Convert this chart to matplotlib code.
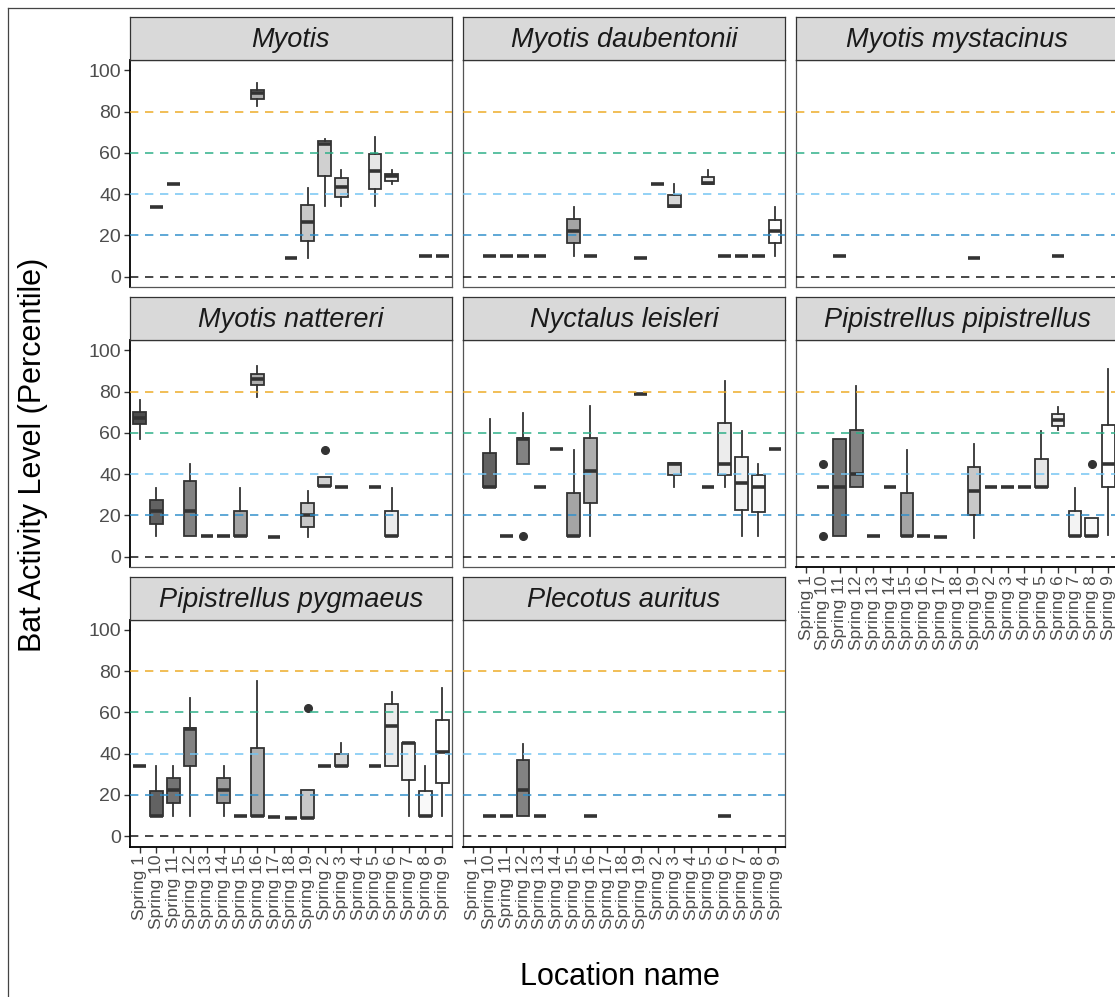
import numpy as np
import matplotlib
matplotlib.use("Agg")
import matplotlib.pyplot as plt
from matplotlib.lines import Line2D

plt.rcParams["font.family"] = ["Liberation Sans", "DejaVu Sans"]

# ---------------------------------------------------------------- data
LOCATIONS = ["Spring 1", "Spring 10", "Spring 11", "Spring 12", "Spring 13",
             "Spring 14", "Spring 15", "Spring 16", "Spring 17", "Spring 18",
             "Spring 19", "Spring 2", "Spring 3", "Spring 4", "Spring 5",
             "Spring 6", "Spring 7", "Spring 8", "Spring 9"]

SPECIES = ["Myotis", "Myotis daubentonii", "Myotis mystacinus",
           "Myotis nattereri", "Nyctalus leisleri", "Pipistrellus pipistrellus",
           "Pipistrellus pygmaeus", "Plecotus auritus"]

# (location, lower whisker, Q1, median, Q3, upper whisker, outliers)
MYOTIS = [
    ("Spring 10", 34, 34, 34, 34, 34, []),
    ("Spring 11", 45, 45, 45, 45, 45, []),
    ("Spring 16", 82.5, 86, 88.8, 90.7, 94, []),
    ("Spring 18", 9, 9, 9, 9, 9, []),
    ("Spring 19", 9, 17.5, 26.3, 34.5, 43, []),
    ("Spring 2", 34.3, 49, 64.1, 65.6, 66.7, []),
    ("Spring 3", 34.3, 38.6, 43.4, 47.6, 51.8, []),
    ("Spring 5", 34.3, 42.6, 51.3, 59.5, 67.8, []),
    ("Spring 6", 45, 46.4, 48.8, 49.9, 51.8, []),
    ("Spring 8", 10, 10, 10, 10, 10, []),
    ("Spring 9", 10, 10, 10, 10, 10, []),
]
MYOTIS_DAUBENTONII = [
    ("Spring 10", 10, 10, 10, 10, 10, []),
    ("Spring 11", 10, 10, 10, 10, 10, []),
    ("Spring 12", 10, 10, 10, 10, 10, []),
    ("Spring 13", 10, 10, 10, 10, 10, []),
    ("Spring 15", 10, 16.1, 22.2, 28, 34, []),
    ("Spring 16", 10, 10, 10, 10, 10, []),
    ("Spring 19", 9, 9, 9, 9, 9, []),
    ("Spring 2", 45, 45, 45, 45, 45, []),
    ("Spring 3", 34, 34, 34.3, 39.5, 44.7, []),
    ("Spring 5", 45, 45, 45.5, 48.5, 51.8, []),
    ("Spring 6", 10, 10, 10, 10, 10, []),
    ("Spring 7", 10, 10, 10, 10, 10, []),
    ("Spring 8", 10, 10, 10, 10, 10, []),
    ("Spring 9", 10, 16.4, 22.2, 27.7, 33.7, []),
]
MYOTIS_MYSTACINUS = [
    ("Spring 11", 10, 10, 10, 10, 10, []),
    ("Spring 19", 9, 9, 9, 9, 9, []),
    ("Spring 6", 10, 10, 10, 10, 10, []),
]
MYOTIS_NATTERERI = [
    ("Spring 1", 57, 64.2, 67.4, 70, 75.8, []),
    ("Spring 10", 10, 15.8, 21.9, 27.7, 33.5, []),
    ("Spring 12", 10, 10, 21.9, 36.6, 44.8, []),
    ("Spring 13", 10, 10, 10, 10, 10, []),
    ("Spring 14", 10, 10, 10, 10, 10, []),
    ("Spring 15", 10, 10, 10, 21.9, 33.5, []),
    ("Spring 16", 77.4, 83.2, 86.1, 88.4, 92.6, []),
    ("Spring 17", 9.5, 9.5, 9.5, 9.5, 9.5, []),
    ("Spring 19", 9.5, 14.5, 20.3, 26.1, 31.9, []),
    ("Spring 2", 34.2, 34.2, 34.2, 38.4, 38.4, [51.9]),
    ("Spring 3", 34, 34, 34, 34, 34, []),
    ("Spring 5", 34, 34, 34, 34, 34, []),
    ("Spring 6", 10, 10, 10, 22, 33.5, []),
]
NYCTALUS_LEISLERI = [
    ("Spring 10", 34, 34, 34, 50.3, 66.9, []),
    ("Spring 11", 10, 10, 10, 10, 10, []),
    ("Spring 12", 45.1, 45.1, 56.8, 57.4, 69.7, [10]),
    ("Spring 13", 34, 34, 34, 34, 34, []),
    ("Spring 14", 52, 52, 52, 52, 52, []),
    ("Spring 15", 10, 10, 10, 30.9, 51.6, []),
    ("Spring 16", 10, 25.8, 41.4, 57.4, 72.9, []),
    ("Spring 19", 79, 79, 79, 79, 79, []),
    ("Spring 3", 34, 39.5, 45, 45.2, 45.2, []),
    ("Spring 5", 34, 34, 34, 34, 34, []),
    ("Spring 6", 34, 39.6, 45.1, 64.8, 85, []),
    ("Spring 7", 10, 22.6, 35.7, 48.4, 60.9, []),
    ("Spring 8", 10, 21.8, 34, 39.5, 44.7, []),
    ("Spring 9", 52, 52, 52, 52, 52, []),
]
PIPISTRELLUS_PIPISTRELLUS = [
    ("Spring 10", 34, 34, 34, 34, 34, [45, 10]),
    ("Spring 11", 10, 10, 34, 56.8, 56.8, []),
    ("Spring 12", 34, 34, 40, 61.6, 82.6, []),
    ("Spring 13", 10, 10, 10, 10, 10, []),
    ("Spring 14", 34, 34, 34, 34, 34, []),
    ("Spring 15", 10, 10, 10, 30.9, 51.6, []),
    ("Spring 16", 10, 10, 10, 10, 10, []),
    ("Spring 17", 9.5, 9.5, 9.5, 9.5, 9.5, []),
    ("Spring 19", 9.1, 20.1, 31.9, 43.5, 54.8, []),
    ("Spring 2", 34, 34, 34, 34, 34, []),
    ("Spring 3", 34, 34, 34, 34, 34, []),
    ("Spring 4", 34, 34, 34, 34, 34, []),
    ("Spring 5", 34, 34, 34, 47.4, 60.8, []),
    ("Spring 6", 61.3, 63.2, 66.1, 69, 72.6, []),
    ("Spring 7", 10, 10, 10, 22, 33.5, []),
    ("Spring 8", 10, 10, 10, 18.7, 18.7, [45]),
    ("Spring 9", 10.3, 34, 44.8, 64, 90.8, []),
]
PIPISTRELLUS_PYGMAEUS = [
    ("Spring 1", 34, 34, 34, 34, 34, []),
    ("Spring 10", 10, 10, 10, 22, 34, []),
    ("Spring 11", 10, 15.9, 22.3, 28.1, 34, []),
    ("Spring 12", 10, 34.2, 51.8, 52.3, 67, []),
    ("Spring 14", 10, 15.9, 22.3, 28.1, 34, []),
    ("Spring 15", 10, 10, 10, 10, 10, []),
    ("Spring 16", 10, 10, 10, 42.6, 75, []),
    ("Spring 17", 9.5, 9.5, 9.5, 9.5, 9.5, []),
    ("Spring 18", 9, 9, 9, 9, 9, []),
    ("Spring 19", 9, 9, 9, 22.3, 22.3, [62.3]),
    ("Spring 2", 34, 34, 34, 34, 34, []),
    ("Spring 3", 34, 34, 34, 39.8, 45.2, []),
    ("Spring 5", 34, 34, 34, 34, 34, []),
    ("Spring 6", 34, 34, 53.2, 64.2, 69.7, []),
    ("Spring 7", 10, 27.4, 45, 45.2, 45.2, []),
    ("Spring 8", 10, 10, 10, 22, 34, []),
    ("Spring 9", 10, 25.8, 41, 56.5, 71.9, []),
]
PLECOTUS_AURITUS = [
    ("Spring 10", 10, 10, 10, 10, 10, []),
    ("Spring 11", 10, 10, 10, 10, 10, []),
    ("Spring 12", 10, 10, 22.3, 36.8, 44.9, []),
    ("Spring 13", 10, 10, 10, 10, 10, []),
    ("Spring 16", 10, 10, 10, 10, 10, []),
    ("Spring 6", 10, 10, 10, 10, 10, []),
]

PANEL_DATA = [MYOTIS, MYOTIS_DAUBENTONII, MYOTIS_MYSTACINUS, MYOTIS_NATTERERI,
              NYCTALUS_LEISLERI, PIPISTRELLUS_PIPISTRELLUS,
              PIPISTRELLUS_PYGMAEUS, PLECOTUS_AURITUS]

THRESHOLDS = [0, 20, 40, 60, 80]
THRESHOLD_COLOURS = ["#111111", "#2F8FCB", "#72C4F2", "#2BAE86", "#EDAA24"]
Y_TICKS = [0, 20, 40, 60, 80, 100]

# ---------------------------------------------------------------- styling
W, H = 1115, 997
fig = plt.figure(figsize=(W / 100, H / 100), dpi=100)

# grey fill scale, dark to white, gamma corrected
n_loc = len(LOCATIONS)
g = np.linspace(0.3 ** 2.2, 1.0, n_loc) ** (1 / 2.2)
FILLS = {loc: (v, v, v) for loc, v in zip(LOCATIONS, g)}

COLS = [(129.5, 452.3), (462.7, 785.2), (796.0, 1118.5)]
ROWS = [(60.0, 287.0), (340.0, 567.0), (619.5, 846.5)]
STRIP_H = 42.5
EDGE = "#333333"


def add_px_axes(x0, y0, x1, y1, **kw):
    return fig.add_axes([x0 / W, 1 - y1 / H, (x1 - x0) / W, (y1 - y0) / H], **kw)


for k, (name, rows) in enumerate(zip(SPECIES, PANEL_DATA)):
    r, c = divmod(k, 3)
    x0, x1 = COLS[c]
    y0, y1 = ROWS[r]
    ax = add_px_axes(x0, y0, x1, y1)
    strip = add_px_axes(x0, y0 - STRIP_H, x1, y0)

    # strip
    strip.set_facecolor("#D9D9D9")
    strip.set_xticks([])
    strip.set_yticks([])
    for s in strip.spines.values():
        s.set_color(EDGE)
        s.set_linewidth(0.9)
    strip.text(0.5, 0.47, name, transform=strip.transAxes, ha="center",
               va="center", fontsize=19.5, style="italic", color="#1A1A1A")

    # boxes
    stats = []
    positions = []
    for loc, lo, q1, med, q3, hi, out in rows:
        stats.append(dict(whislo=lo, q1=q1, med=med, q3=q3, whishi=hi,
                          fliers=out))
        positions.append(LOCATIONS.index(loc))
    bp = ax.bxp(stats, positions=positions, widths=0.75, patch_artist=True,
                showcaps=False, showfliers=True,
                boxprops=dict(edgecolor=EDGE, linewidth=1.3),
                whiskerprops=dict(color=EDGE, linewidth=1.3),
                medianprops=dict(color=EDGE, linewidth=2.6,
                                 solid_capstyle="butt"),
                flierprops=dict(marker="o", markerfacecolor=EDGE,
                                markeredgecolor=EDGE, markersize=5.5),
                manage_ticks=False, zorder=2)
    for patch, (loc, *_rest) in zip(bp["boxes"], rows):
        patch.set_facecolor(FILLS[loc])

    # threshold lines
    for yv, col in zip(THRESHOLDS, THRESHOLD_COLOURS):
        ax.axhline(yv, color=col, linewidth=1.2, dashes=(5, 4), alpha=0.9,
                   zorder=3)

    ax.set_xlim(-0.6, n_loc - 0.4)
    ax.set_ylim(-5, 105)
    ax.set_facecolor("white")

    for s in ax.spines.values():
        s.set_color("#555555")
        s.set_linewidth(0.9)

    left_axis = (c == 0)
    bottom_axis = (k >= 5)

    ax.set_yticks(Y_TICKS)
    if left_axis:
        ax.spines["left"].set_color("black")
        ax.spines["left"].set_linewidth(1.3)
        ax.set_yticklabels([str(v) for v in Y_TICKS])
        ax.tick_params(axis="y", length=4, width=1.0, color=EDGE,
                       labelsize=14, labelcolor="#4D4D4D", pad=2)
    else:
        ax.tick_params(axis="y", length=0, labelleft=False)

    ax.set_xticks(range(n_loc))
    if bottom_axis:
        ax.spines["bottom"].set_color("black")
        ax.spines["bottom"].set_linewidth(1.3)
        ax.set_xticklabels(LOCATIONS, rotation=90, ha="center", va="top")
        ax.tick_params(axis="x", length=4, width=1.0, color=EDGE,
                       labelsize=12.5, labelcolor="#4D4D4D", pad=2)
    else:
        ax.tick_params(axis="x", length=0, labelbottom=False)

# axis titles
fig.text(620 / W, 1 - 977 / H, "Location name", ha="center", va="center",
         fontsize=22, color="black")
fig.text(33 / W, 1 - 455 / H, "Bat Activity Level (Percentile)", ha="center",
         va="center", rotation=90, fontsize=22, color="black")

# outer frame of the figure
fig.add_artist(Line2D([8 / W, 8 / W], [0, 1 - 8 / H], color="#444444",
                      linewidth=0.9, transform=fig.transFigure))
fig.add_artist(Line2D([8 / W, 1], [1 - 8 / H, 1 - 8 / H], color="#444444",
                      linewidth=0.9, transform=fig.transFigure))

fig.savefig("out.png", dpi=100, facecolor="white")
